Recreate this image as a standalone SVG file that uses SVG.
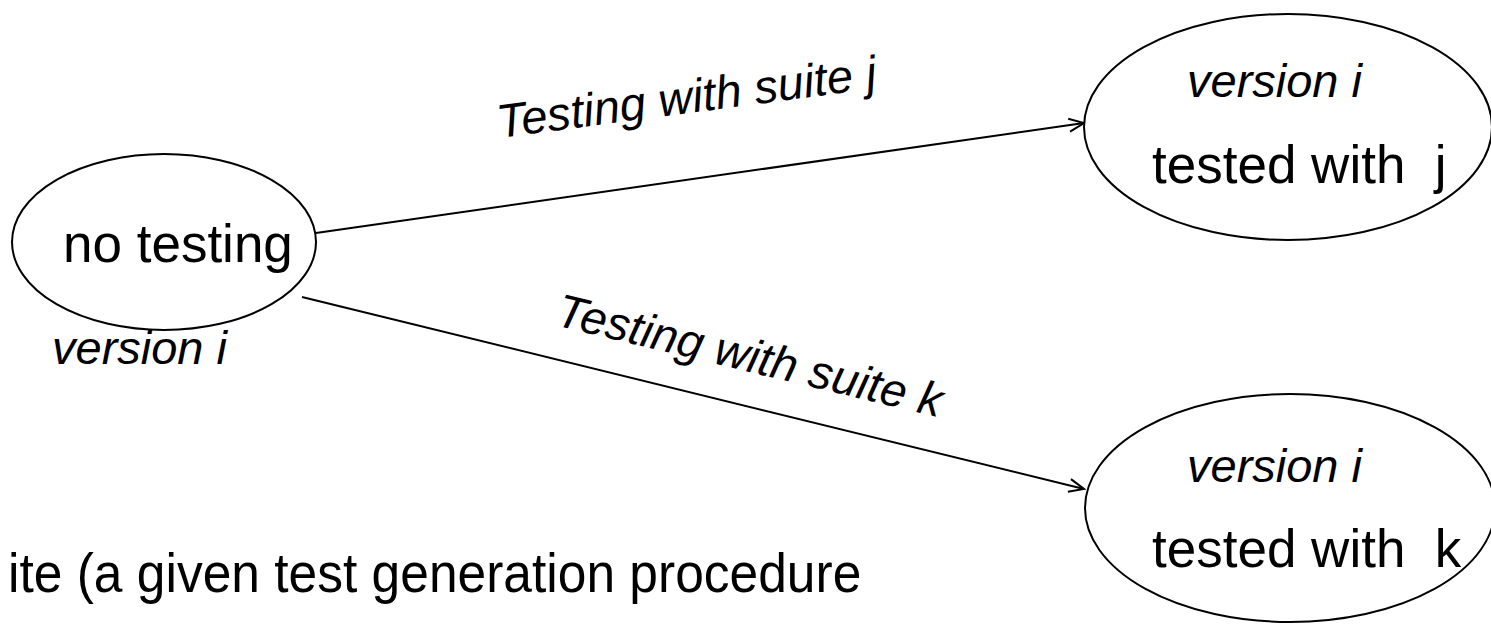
<svg xmlns="http://www.w3.org/2000/svg" width="1491" height="624" viewBox="0 0 1491 624">
  <style>
    .node { fill: #ffffff; stroke: #000000; stroke-width: 2; }
    .edge { fill: none; stroke: #000000; stroke-width: 2; }
    text { font-family: "Liberation Sans", Arial, sans-serif; fill: #000000; }
    .big { font-size: 53px; }
    .it { font-size: 47px; font-style: italic; }
  </style>
  <defs>
    <marker id="open-arrow" markerUnits="userSpaceOnUse" markerWidth="20" markerHeight="20" viewBox="-16 -10 20 20" refX="0" refY="0" orient="auto">
      <path d="M -15 -6.5 L 0 0 L -15 6.5" fill="none" stroke="#000000" stroke-width="2"/>
    </marker>
  </defs>
  <rect width="1491" height="624" fill="#ffffff"/>

  <!-- transitions -->
  <g id="connectors">
    <line class="edge" x1="316" y1="233" x2="1084" y2="123" marker-end="url(#open-arrow)"/>
    <line class="edge" x1="302" y1="297" x2="1084" y2="489" marker-end="url(#open-arrow)"/>
    <text class="it" transform="translate(499 138) rotate(-7.5)">Testing with suite j</text>
    <text class="it" transform="translate(554 325) rotate(13.5)">Testing with suite k</text>
  </g>

  <!-- initial state -->
  <g id="node-untested">
    <ellipse class="node" cx="164" cy="242" rx="152" ry="88"/>
    <text class="big" x="63" y="262">no testing</text>
    <text class="it" x="52" y="364">version i</text>
  </g>

  <!-- state after suite j -->
  <g id="node-tested-j">
    <ellipse class="node" cx="1288" cy="127" rx="204" ry="113"/>
    <text class="it" x="1187" y="97">version i</text>
    <text class="big" x="1152" y="183" xml:space="preserve">tested with  j</text>
  </g>

  <!-- state after suite k -->
  <g id="node-tested-k">
    <ellipse class="node" cx="1290" cy="508" rx="205" ry="114"/>
    <text class="it" x="1187" y="482">version i</text>
    <text class="big" x="1152" y="567" xml:space="preserve">tested with  k</text>
  </g>

  <!-- caption line running off the left edge, set slightly condensed -->
  <text transform="translate(8 592) scale(0.92 1)" style="font-size:56px">ite (a given test generation procedure</text>
</svg>
